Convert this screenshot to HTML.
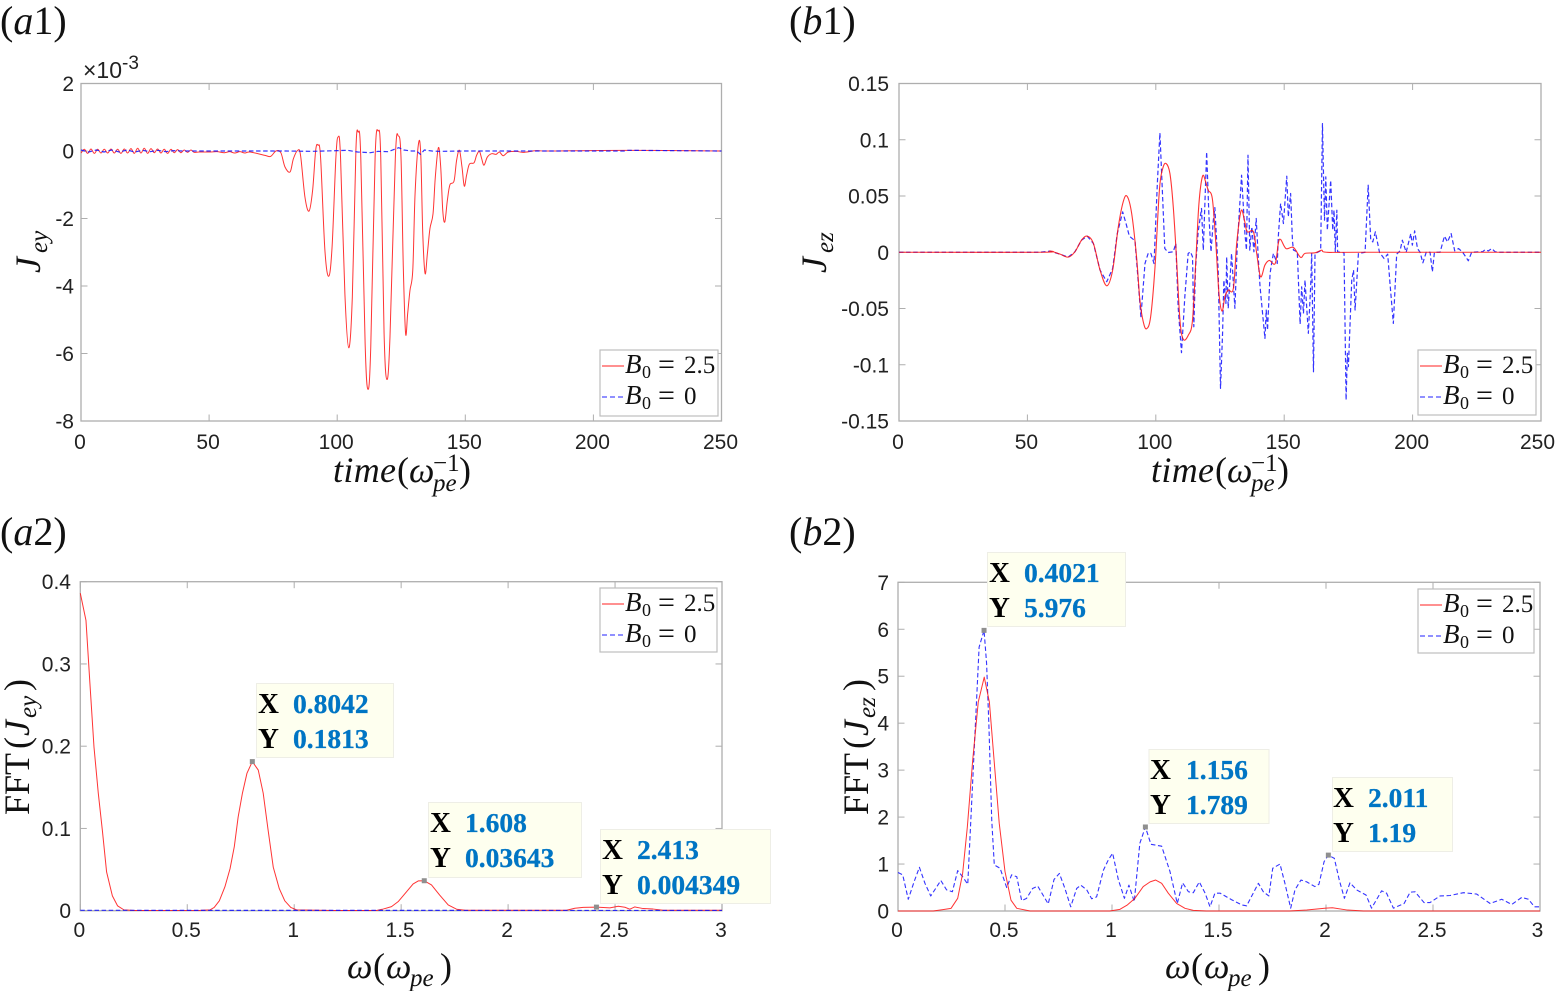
<!DOCTYPE html>
<html lang="en">
<head>
<meta charset="utf-8">
<title>Current density time series and FFT panels</title>
<style>
html,body{margin:0;padding:0;background:#fff;}
svg{display:block;}
.tick{font-family:"Liberation Sans",sans-serif;font-size:21px;fill:#222;}
.math{font-family:"Liberation Serif",serif;fill:#111;}
.it{font-style:italic;}
.panel{font-size:40px;}
.lab{font-size:36px;}
.sub{font-size:25px;}
.leg{font-size:25px;}
.legb{font-size:27px;}
.legeq{font-size:30px;}
.legsub{font-size:18px;}
.tipk{font-family:"Liberation Serif",serif;font-weight:bold;font-size:29px;fill:#000;}
.tipv{font-family:"Liberation Serif",serif;font-weight:bold;font-size:27.5px;fill:#0075c4;stroke:#0075c4;stroke-width:0.3;}
.frame{fill:#fff;stroke:#aeaeae;stroke-width:1.3;}
.legbox{fill:#fff;stroke:#bdbdbd;stroke-width:1.2;}
.tipbox{fill:#feffef;stroke:#eeeee6;stroke-width:1;}
</style>
</head>
<body>
<svg xmlns="http://www.w3.org/2000/svg" width="1555" height="991" viewBox="0 0 1555 991">
<rect x="0" y="0" width="1555" height="991" fill="#fff"/>

<text class="math panel" x="0" y="34">(<tspan class="it">a</tspan>1)</text>
<text class="math panel" x="789" y="34">(<tspan class="it">b</tspan>1)</text>
<text class="math panel" x="0" y="545">(<tspan class="it">a</tspan>2)</text>
<text class="math panel" x="789" y="545">(<tspan class="it">b</tspan>2)</text>

<g id="plot-a1"></g>
<g id="plot-b1"></g>
<g id="plot-a2"></g>
<g id="plot-b2"></g>

<text class="tick" x="83" y="78" font-size="23" style="font-size:23px">×10<tspan style="font-size:19px" dy="-9">-3</tspan></text>

<g class="math" transform="translate(40,273) rotate(-90)"><text class="math lab it" x="0" y="0">J</text><text class="math sub it" x="20" y="7">ey</text></g>
<g class="math" transform="translate(826,273) rotate(-90)"><text class="math lab it" x="0" y="0">J</text><text class="math sub it" x="20" y="7">ez</text></g>
<g class="math" transform="translate(29,815) rotate(-90)"><text class="math lab" x="0" y="0">FFT</text><text class="math lab" x="66" y="0">(</text><text class="math lab it" x="79" y="0">J</text><text class="math sub it" x="97" y="7">ey</text><text class="math lab" x="124" y="0">)</text></g>
<g class="math" transform="translate(868,815) rotate(-90)"><text class="math lab" x="0" y="0">FFT</text><text class="math lab" x="66" y="0">(</text><text class="math lab it" x="79" y="0">J</text><text class="math sub it" x="97" y="7">ez</text><text class="math lab" x="124" y="0">)</text></g>

<g transform="translate(333,482)"><text class="math lab it" x="0" y="0" textLength="63">time</text><text class="math lab" x="64" y="0">(</text><text class="math lab it" x="76" y="0">ω</text><text class="math sub it" x="100" y="9">pe</text><text class="math sub" x="100" y="-11">−1</text><text class="math lab" x="126" y="0">)</text></g>
<g transform="translate(1151,482)"><text class="math lab it" x="0" y="0" textLength="63">time</text><text class="math lab" x="64" y="0">(</text><text class="math lab it" x="76" y="0">ω</text><text class="math sub it" x="100" y="9">pe</text><text class="math sub" x="100" y="-11">−1</text><text class="math lab" x="126" y="0">)</text></g>
<g transform="translate(347,978)"><text class="math lab it" x="0" y="0">ω</text><text class="math lab" x="26" y="0">(</text><text class="math lab it" x="39" y="0">ω</text><text class="math sub it" x="63" y="8">pe</text><text class="math lab" x="93" y="0">)</text></g>
<g transform="translate(1165,978)"><text class="math lab it" x="0" y="0">ω</text><text class="math lab" x="26" y="0">(</text><text class="math lab it" x="39" y="0">ω</text><text class="math sub it" x="63" y="8">pe</text><text class="math lab" x="93" y="0">)</text></g>

<g transform="translate(600,350)">
<rect class="legbox" x="0" y="0" width="118" height="66"/>
<line x1="2" x2="24" y1="16" y2="16" stroke="#ff2020" stroke-width="1"/>
<line x1="2" x2="24" y1="47" y2="47" stroke="#2020ff" stroke-width="1" stroke-dasharray="5 3"/>
<g><text class="math legb it" x="25" y="23">B</text><text class="math legsub" x="42" y="28">0</text><text class="math legeq" x="58" y="24">=</text><text class="math leg" x="84" y="23">2.5</text></g>
<g><text class="math legb it" x="25" y="54">B</text><text class="math legsub" x="42" y="59">0</text><text class="math legeq" x="58" y="55">=</text><text class="math leg" x="84" y="54">0</text></g>
</g>
<g transform="translate(1418,350)">
<rect class="legbox" x="0" y="0" width="118" height="65"/>
<line x1="2" x2="24" y1="16" y2="16" stroke="#ff2020" stroke-width="1"/>
<line x1="2" x2="24" y1="47" y2="47" stroke="#2020ff" stroke-width="1" stroke-dasharray="5 3"/>
<g><text class="math legb it" x="25" y="23">B</text><text class="math legsub" x="42" y="28">0</text><text class="math legeq" x="58" y="24">=</text><text class="math leg" x="84" y="23">2.5</text></g>
<g><text class="math legb it" x="25" y="54">B</text><text class="math legsub" x="42" y="59">0</text><text class="math legeq" x="58" y="55">=</text><text class="math leg" x="84" y="54">0</text></g>
</g>
<g transform="translate(600,588)">
<rect class="legbox" x="0" y="0" width="117" height="64"/>
<line x1="2" x2="24" y1="16" y2="16" stroke="#ff2020" stroke-width="1"/>
<line x1="2" x2="24" y1="47" y2="47" stroke="#2020ff" stroke-width="1" stroke-dasharray="5 3"/>
<g><text class="math legb it" x="25" y="23">B</text><text class="math legsub" x="42" y="28">0</text><text class="math legeq" x="58" y="24">=</text><text class="math leg" x="84" y="23">2.5</text></g>
<g><text class="math legb it" x="25" y="54">B</text><text class="math legsub" x="42" y="59">0</text><text class="math legeq" x="58" y="55">=</text><text class="math leg" x="84" y="54">0</text></g>
</g>
<g transform="translate(1418,589)">
<rect class="legbox" x="0" y="0" width="116" height="64"/>
<line x1="2" x2="24" y1="16" y2="16" stroke="#ff2020" stroke-width="1"/>
<line x1="2" x2="24" y1="47" y2="47" stroke="#2020ff" stroke-width="1" stroke-dasharray="5 3"/>
<g><text class="math legb it" x="25" y="23">B</text><text class="math legsub" x="42" y="28">0</text><text class="math legeq" x="58" y="24">=</text><text class="math leg" x="84" y="23">2.5</text></g>
<g><text class="math legb it" x="25" y="54">B</text><text class="math legsub" x="42" y="59">0</text><text class="math legeq" x="58" y="55">=</text><text class="math leg" x="84" y="54">0</text></g>
</g>

<g>
<rect class="tipbox" x="256.5" y="683.5" width="137" height="74"/>
<text class="tipk" x="258" y="713">X</text><text class="tipv" x="293" y="713">0.8042</text>
<text class="tipk" x="258" y="748">Y</text><text class="tipv" x="293" y="748">0.1813</text>
</g>
<g>
<rect class="tipbox" x="428.5" y="802.5" width="153" height="75"/>
<text class="tipk" x="430" y="832">X</text><text class="tipv" x="465" y="832">1.608</text>
<text class="tipk" x="430" y="867">Y</text><text class="tipv" x="465" y="867">0.03643</text>
</g>
<g>
<rect class="tipbox" x="600.5" y="829.5" width="170" height="74"/>
<text class="tipk" x="602" y="859">X</text><text class="tipv" x="637" y="859">2.413</text>
<text class="tipk" x="602" y="894">Y</text><text class="tipv" x="637" y="894">0.004349</text>
</g>
<g>
<rect class="tipbox" x="987.5" y="552.5" width="138" height="74"/>
<text class="tipk" x="989" y="582">X</text><text class="tipv" x="1024" y="582">0.4021</text>
<text class="tipk" x="989" y="617">Y</text><text class="tipv" x="1024" y="617">5.976</text>
</g>
<g>
<rect class="tipbox" x="1149" y="749.5" width="120" height="74"/>
<text class="tipk" x="1150" y="779">X</text><text class="tipv" x="1186" y="779">1.156</text>
<text class="tipk" x="1150" y="814">Y</text><text class="tipv" x="1186" y="814">1.789</text>
</g>
<g>
<rect class="tipbox" x="1332.5" y="777.5" width="120" height="74"/>
<text class="tipk" x="1333" y="807">X</text><text class="tipv" x="1368" y="807">2.011</text>
<text class="tipk" x="1333" y="842">Y</text><text class="tipv" x="1368" y="842">1.19</text>
</g>
</svg>

<script>
const a1XTicks=[0,50,100,150,200,250];
const a1YTicks=[2,0,-2,-4,-6,-8];
const b1XTicks=[0,50,100,150,200,250];
const b1YTicks=[0.15,0.1,0.05,0,-0.05,-0.1,-0.15];
const a2XTicks=[0,0.5,1,1.5,2,2.5,3];
const a2YTicks=[0.4,0.3,0.2,0.1,0];
const b2XTicks=[0,0.5,1,1.5,2,2.5,3];
const b2YTicks=[7,6,5,4,3,2,1,0];

const a1RedTime=[0,1.3,2.6,3.9,5.2,6.5,7.8,9.1,10.4,11.7,13,14.3,15.6,16.9,18.2,19.5,20.8,22.1,23.4,24.7,26,27.3,28.6,29.9,31.2,32.5,33.8,35.1,36.4,37.7,39,40.3,41.6,42.9,44.2,
46,50,53,56,58,60,62,64,66,
71.8,74,76.1,78,79.6,81.6,82.9,84.6,85.7,87.4,89,90.4,91.6,92.5,93.5,95.2,96.7,98,99.5,100.4,101.3,103,104.5,105.9,107.3,108.2,109.2,110.9,112,113.1,114.8,116,117,118.3,119.4,120.6,122.7,123.9,124.9,125.8,126.7,127.5,128.4,129.5,130.4,131.7,132.6,133.4,134.3,135.2,136.2,137.4,138.3,139.5,140.4,141.2,142,143,144,145.6,146.6,147.7,148.7,149.6,150.5,151.6,153.4,154.4,155.5,156.4,157.3,158.6,160.3,162,163.3,164.8,166.8,170,172.6,177.8,183,212,250];
const a1RedValue=[-0.06,0.05,-0.07,0.06,-0.07,0.05,-0.06,0.05,-0.06,0.06,-0.06,0.05,-0.07,0.06,-0.06,0.07,-0.07,0.08,-0.06,0.08,-0.07,0.07,-0.05,0.06,-0.06,0.05,-0.07,0.05,-0.05,0.04,-0.05,0.03,-0.04,0.03,-0.04,
-0.03,-0.03,-0.02,-0.05,-0.02,-0.06,-0.02,-0.06,-0.03,
-0.13,-0.16,0,-0.05,-0.47,-0.62,-0.23,0.02,-0.13,-1.36,-1.78,-1.17,0.02,0.17,-0.18,-2.94,-3.71,-2.84,-0.18,0.42,-0.18,-4.23,-5.83,-4.33,0.02,0.56,-0.18,-5.71,-7.06,-5.81,-0.18,0.59,-0.18,-5.41,-6.77,-5.51,-0.18,0.44,-0.18,-3.44,-5.41,-4.82,-4.13,-3.53,-1.26,0.2,-0.08,-2.45,-3.63,-3.04,-2.3,-1.86,-0.77,0.1,-0.47,-1.76,-2.1,-1.46,-1,-0.89,-0.28,0.02,-0.47,-1.04,-0.72,-0.39,-0.35,-0.13,-0.01,-0.23,-0.42,-0.18,-0.08,-0.1,-0.03,-0.14,-0.03,-0.01,-0.04,0.01,0,0.02,0];

const a1BlueTime=[0,3,6,9,12,15,18,21,24,27,30,33,36,40,50,60,70,80,90,100,104,108,113,116,120,124,126,129,131,132.5,134,137,140,150,160,180,212,213,250];
const a1BlueValue=[0.03,-0.03,0.03,-0.03,0.03,-0.03,0.03,-0.03,0.02,-0.02,0.02,-0.02,0.01,0,0,0,0,0,-0.01,0.01,0.02,-0.03,-0.05,-0.01,-0.02,0.1,0.03,0,0,-0.1,0.03,0,-0.01,0,0,0,0,0.02,0];

const b1RedTime=[0,54.9,58.8,62.7,65.9,68.5,71.1,73.3,75.7,78.3,80.9,83.2,85.4,87.3,88.8,90.6,92.5,93.8,95.1,96.4,98,99.7,101.4,102.7,104,105.5,106.8,108.1,109.4,110.7,112.7,114.3,115.6,116.8,118.2,119.4,120.4,122,123.3,124.6,125.8,126.9,128.2,130.2,131.5,133.2,134.5,135.6,138,139.3,140.8,142.5,144.2,146.5,147.7,148.6,150.7,153.6,156.4,158.1,162,164.6,166.5,180,250];
const b1RedValue=[0,0,0.001,-0.0017,-0.0043,0.0004,0.0108,0.0143,0.0078,-0.0159,-0.0298,-0.0159,0.0226,0.0448,0.0498,0.0345,-0.004,-0.0425,-0.0617,-0.068,-0.0573,-0.0129,0.0552,0.0744,0.0789,0.07,0.0404,-0.007,-0.0603,-0.0774,-0.0736,-0.0603,-0.007,0.0433,0.0676,0.0626,0.0552,0.0478,0.0108,-0.0366,-0.0523,-0.0396,-0.0336,-0.0321,0.0078,0.0368,0.0285,0.0182,0.0182,-0.0011,-0.0218,-0.0114,-0.0073,-0.01,0.0078,0.0114,0.0033,0.0042,-0.0046,-0.001,-0.0005,0.0018,0,0,0];

const b1BlueTime=[0,54.9,58.8,62.7,65.9,68.5,71.1,73.3,75.7,78.3,80.9,83.2,85,87.1,88.4,89.7,91.9,92.9,94.2,95.8,
97.1,98.1,99.3,100.6,101.6,103.5,104.8,106.8,107.8,108.7,110,111.3,112.6,113.5,114.3,114.8,115.5,116.5,117.8,118.5,119.8,120.7,121.5,122.4,123,124.3,125.2,126,126.5,127.3,127.6,128.2,129.5,130.8,131.7,133.4,134.7,135.3,135.9,136.6,137.4,138.2,139.1,140.1,
140.6,142.5,143,143.5,144.5,145.1,145.8,147.3,147.7,148.6,149.7,151,151.6,152.5,153.2,153.6,155.1,156.2,156.8,157.5,158.1,159.4,160.3,160.7,161.4,162,164.2,164.9,165.3,165.7,166.2,166.8,168.1,168.9,169.4,169.9,170.5,170.8,173.3,174.1,174.6,175,176.3,177,177.6,178.9,
181.5,182.7,183.7,184.5,185.5,187.1,188.9,190.3,191.2,192.5,193.8,195.1,196,197.5,199.3,199.9,200.8,201.9,202.9,204,205.3,206.8,207.7,208.5,210.7,212.4,213.6,215,216.4,217.9,219.5,221.7,223,227.3,228.2,229.5,230.8,232.1,234,250];
const b1BlueValue=[0,0,0.001,-0.0017,-0.0043,0.0004,0.0108,0.0143,0.0078,-0.0159,-0.0262,-0.0144,0.0167,0.0359,0.0256,0.0143,0.0102,-0.0188,-0.0573,-0.0099,
-0.0005,-0.0011,-0.01,0.0611,0.1061,0.0033,-0.0002,0.0004,0.0078,-0.0485,-0.0893,-0.0396,-0.0011,0.0004,-0.0041,-0.0662,-0.013,0.0181,0.0389,0.0019,0.0892,0.0315,0.0004,0.0285,0.0397,-0.0159,-0.121,-0.072,-0.0248,-0.0455,-0.0041,-0.0499,-0.0011,-0.0499,0.0048,0.0685,0.0167,0.0019,0.0862,0.0019,0.0226,0.0004,0.03,-0.013,
-0.0307,-0.0766,-0.0514,-0.0692,-0.0189,-0.01,-0.0011,-0.01,0.0137,0.0433,0.0255,0.0676,0.0315,0.0522,0.0107,0.0019,0.0004,-0.0639,-0.0307,-0.0544,-0.0248,-0.0721,-0.0307,-0.0011,-0.1062,-0.0011,0.0013,0.1143,0.0699,0.0285,0.067,0.0196,0.064,0.0196,0.0374,0.0004,0.0374,0.0004,-0.0005,-0.1313,-0.0899,-0.1017,-0.0248,-0.0159,-0.0514,-0.0011,
0,0.0596,0.0107,0.0092,0.0181,0,-0.0056,-0.0017,-0.0278,-0.0633,-0.0017,0.0012,0.0107,0,0.0166,0.0063,0.019,0.0033,0,-0.0094,0,0,-0.0174,0,0,0.0143,0.0092,0.0166,0.0012,0.0033,0,-0.0076,0,0.0005,0.0023,0.0012,0.0033,0.0005,0,0];

const a2RedFreq=[0,0.0265,0.045,0.064,0.084,0.103,0.123,0.15,0.174,0.204,0.25,0.56,0.606,0.626,0.65,0.676,0.7,0.72,0.738,0.758,0.779,0.8042,0.832,0.855,0.878,0.902,0.93,0.956,0.984,1.011,1.18,1.385,1.416,1.455,1.486,1.525,1.556,1.58,1.608,1.642,1.68,1.72,1.759,1.8,2.273,2.312,2.351,2.413,2.476,2.515,2.546,2.569,2.592,2.631,2.678,2.725,3];
const a2RedAmp=[0.386,0.353,0.276,0.199,0.143,0.098,0.047,0.018,0.006,0.001,0.0003,0.0004,0.001,0.004,0.012,0.029,0.051,0.078,0.114,0.143,0.167,0.1813,0.171,0.143,0.098,0.053,0.027,0.012,0.004,0.001,0.0003,0.0003,0.002,0.005,0.011,0.023,0.0325,0.0362,0.0364,0.0313,0.019,0.007,0.0018,0.0005,0.0005,0.003,0.004,0.00435,0.0034,0.0054,0.0042,0.0018,0.0046,0.0026,0.002,0.0005,0.0005];
const a2BlueFreq=[0,0.5,1,1.5,2,2.5,3];
const a2BlueAmp=[0.0005,0.0004,0.0004,0.0004,0.0003,0.0003,0.0003];

const b2RedFreq=[0,0.165,0.21,0.248,0.279,0.302,0.324,0.349,0.375,0.403,0.427,0.449,0.473,0.5,0.528,0.555,0.617,0.99,1.037,1.072,1.107,1.146,1.178,1.204,1.232,1.263,1.302,1.341,1.38,1.44,1.723,1.83,1.91,2,2.03,2.1,2.175,3];
const b2RedAmp=[0,0,0.03,0.057,0.27,0.8,1.79,3.21,4.45,4.98,4.45,3.21,1.87,0.84,0.23,0.057,0,0,0.035,0.13,0.27,0.52,0.62,0.66,0.59,0.38,0.16,0.057,0.014,0,0,0,0.02,0.06,0.07,0.02,0,0];
const b2BlueFreq=[0,0.022,0.048,0.075,0.1,0.126,0.153,0.176,0.2,0.227,0.254,0.279,0.302,0.326,0.379,0.4021,0.414,0.425,0.438,0.45,0.477,0.508,0.531,0.555,0.578,0.601,0.629,0.653,0.702,0.729,0.754,0.78,0.807,0.835,0.854,0.882,0.905,0.928,0.96,0.983,1.003,1.03,1.058,1.079,1.104,1.13,1.156,1.182,1.232,1.271,1.305,1.33,1.357,1.38,1.408,1.435,1.458,1.481,1.505,1.559,1.606,1.629,1.684,1.707,1.733,1.751,1.785,1.808,1.835,1.855,1.883,1.91,1.948,1.967,1.991,2.011,2.039,2.062,2.086,2.112,2.143,2.187,2.213,2.26,2.283,2.315,2.365,2.393,2.416,2.458,2.486,2.533,2.58,2.642,2.704,2.767,2.821,2.868,2.915,2.946,2.974,3];
const b2BlueAmp=[0.82,0.77,0.25,0.62,0.93,0.59,0.32,0.48,0.65,0.45,0.41,0.86,0.73,0.57,5.62,5.976,5.27,3.92,1.94,0.98,0.91,0.5,0.77,0.73,0.22,0.27,0.48,0.53,0.15,0.67,0.8,0.48,0.09,0.48,0.55,0.45,0.26,0.3,0.87,1.09,1.23,0.66,0.27,0.55,0.2,1.44,1.789,1.42,1.38,0.84,0.16,0.6,0.41,0.39,0.62,0.38,0.09,0.38,0.38,0.24,0.13,0.11,0.59,0.41,0.32,0.91,1,0.59,0.06,0.45,0.66,0.62,0.52,0.57,1.05,1.19,1.12,0.66,0.27,0.6,0.45,0.34,0.06,0.43,0.38,0.06,0.16,0.4,0.41,0.18,0.18,0.32,0.33,0.39,0.36,0.16,0.25,0.14,0.29,0.25,0.09,0.09];

const a2TipX=[0.8042,1.608,2.413];
const a2TipY=[0.1813,0.03643,0.004349];
const b2TipX=[0.4021,1.156,2.011];
const b2TipY=[5.976,1.789,1.19];

const SVG_NS='http://www.w3.org/2000/svg';

function scale(d0,d1,r0,r1){
  return function(v){return r0+(v-d0)*(r1-r0)/(d1-d0);};
}
function make(parent,tag,attrs){
  const e=document.createElementNS(SVG_NS,tag);
  for(const k in attrs){e.setAttribute(k,attrs[k]);}
  parent.appendChild(e);
  return e;
}
function linePath(xs,ys,sx,sy){
  const n=Math.min(xs.length,ys.length);
  let d='';
  for(let i=0;i<n;i++){
    d+=(i?'L':'M')+sx(xs[i]).toFixed(2)+' '+sy(ys[i]).toFixed(2);
  }
  return d;
}
function smoothPath(xs,ys,sx,sy){
  const n=Math.min(xs.length,ys.length);
  const px=[],py=[];
  for(let i=0;i<n;i++){px.push(sx(xs[i]));py.push(sy(ys[i]));}
  let d='M'+px[0].toFixed(2)+' '+py[0].toFixed(2);
  const k=0.17;
  for(let i=0;i<n-1;i++){
    const a=Math.max(i-1,0),b=Math.min(i+2,n-1);
    const c1x=px[i]+(px[i+1]-px[a])*k,c1y=py[i]+(py[i+1]-py[a])*k;
    const c2x=px[i+1]-(px[b]-px[i])*k,c2y=py[i+1]-(py[b]-py[i])*k;
    d+='C'+c1x.toFixed(2)+' '+c1y.toFixed(2)+' '+c2x.toFixed(2)+' '+c2y.toFixed(2)+' '+px[i+1].toFixed(2)+' '+py[i+1].toFixed(2);
  }
  return d;
}
function drawAxes(root,box,xTicks,yTicks,sx,sy,labelRight,labelBase){
  const frame=make(root,'rect',{x:box.l,y:box.t,width:box.r-box.l,height:box.b-box.t,'class':'frame'});
  
  
  const tickLen=6.5;
  xTicks.forEach(function(v){
    const x=sx(v);
    const bottom=make(root,'line',{x1:x,x2:x,y1:box.b,y2:box.b-tickLen,stroke:'#aeaeae','stroke-width':1});
    
    
    const top=make(root,'line',{x1:x,x2:x,y1:box.t,y2:box.t+tickLen,stroke:'#aeaeae','stroke-width':1});
    
    
    const label=make(root,'text',{x:Math.min(x-1,1537.5),y:labelBase,'text-anchor':'middle','class':'tick'});
    
    
    label.textContent=String(v);
  });
  yTicks.forEach(function(v){
    const y=sy(v);
    const left=make(root,'line',{x1:box.l,x2:box.l+tickLen,y1:y,y2:y,stroke:'#aeaeae','stroke-width':1});
    
    
    const right=make(root,'line',{x1:box.r,x2:box.r-tickLen,y1:y,y2:y,stroke:'#aeaeae','stroke-width':1});
    
    
    const label=make(root,'text',{x:labelRight,y:y+7.5,'text-anchor':'end','class':'tick'});
    
    
    label.textContent=String(v);
  });
}
function drawSeries(root,d,color,dashed,width){
  const attrs={d:d,fill:'none',stroke:color,'stroke-width':width,'stroke-linejoin':'round','stroke-opacity':0.85};
  if(dashed){attrs['stroke-dasharray']='4.5 2.6';}
  return make(root,'path',attrs);
}
function drawMarkers(root,xs,ys,sx,sy){
  xs.forEach(function(v,i){
    const m=make(root,'rect',{x:sx(v)-2.5,y:sy(ys[i])-2.5,width:5,height:5,fill:'#8f8f8f'});
    
    
  });
}

/* panel a1 */
const a1Box={l:81,r:721.5,t:83.5,b:421};
const a1Sx=scale(0,250,a1Box.l,a1Box.r);
const a1Sy=scale(2,-8,a1Box.t,a1Box.b);
const a1Root=document.getElementById('plot-a1');
drawAxes(a1Root,a1Box,a1XTicks,a1YTicks,a1Sx,a1Sy,74,449);
const a1Red=drawSeries(a1Root,smoothPath(a1RedTime,a1RedValue,a1Sx,a1Sy),'#ff1010',false,1);


const a1Blue=drawSeries(a1Root,linePath(a1BlueTime,a1BlueValue,a1Sx,a1Sy),'#1010ff',true,1.2);



/* panel b1 */
const b1Box={l:899,r:1541,t:83.5,b:421};
const b1Sx=scale(0,250,b1Box.l,b1Box.r);
const b1Sy=scale(0.15,-0.15,b1Box.t,b1Box.b);
const b1Root=document.getElementById('plot-b1');
drawAxes(b1Root,b1Box,b1XTicks,b1YTicks,b1Sx,b1Sy,889,449);
const b1Blue=drawSeries(b1Root,linePath(b1BlueTime,b1BlueValue,b1Sx,b1Sy),'#1010ff',true,1.2);


const b1Red=drawSeries(b1Root,smoothPath(b1RedTime,b1RedValue,b1Sx,b1Sy),'#ff1010',false,1.1);



/* panel a2 */
const a2Box={l:80.3,r:722,t:581.7,b:910.7};
const a2Sx=scale(0,3,a2Box.l,a2Box.r);
const a2Sy=scale(0.4,0,a2Box.t,a2Box.b);
const a2Root=document.getElementById('plot-a2');
drawAxes(a2Root,a2Box,a2XTicks,a2YTicks,a2Sx,a2Sy,71,937);
const a2Red=drawSeries(a2Root,linePath(a2RedFreq,a2RedAmp,a2Sx,a2Sy),'#ff1010',false,1);


const a2Blue=drawSeries(a2Root,linePath(a2BlueFreq,a2BlueAmp,a2Sx,a2Sy),'#1010ff',true,1.2);


drawMarkers(a2Root,a2TipX,a2TipY,a2Sx,a2Sy);

/* panel b2 */
const b2Box={l:898,r:1540,t:582.3,b:911};
const b2Sx=scale(0,3,b2Box.l,b2Box.r);
const b2Sy=scale(7,0,b2Box.t,b2Box.b);
const b2Root=document.getElementById('plot-b2');
drawAxes(b2Root,b2Box,b2XTicks,b2YTicks,b2Sx,b2Sy,889,937);
const b2Blue=drawSeries(b2Root,linePath(b2BlueFreq,b2BlueAmp,b2Sx,b2Sy),'#1010ff',true,1.1);


const b2Red=drawSeries(b2Root,linePath(b2RedFreq,b2RedAmp,b2Sx,b2Sy),'#ff1010',false,1);


drawMarkers(b2Root,b2TipX,b2TipY,b2Sx,b2Sy);
</script>
</body>
</html>
